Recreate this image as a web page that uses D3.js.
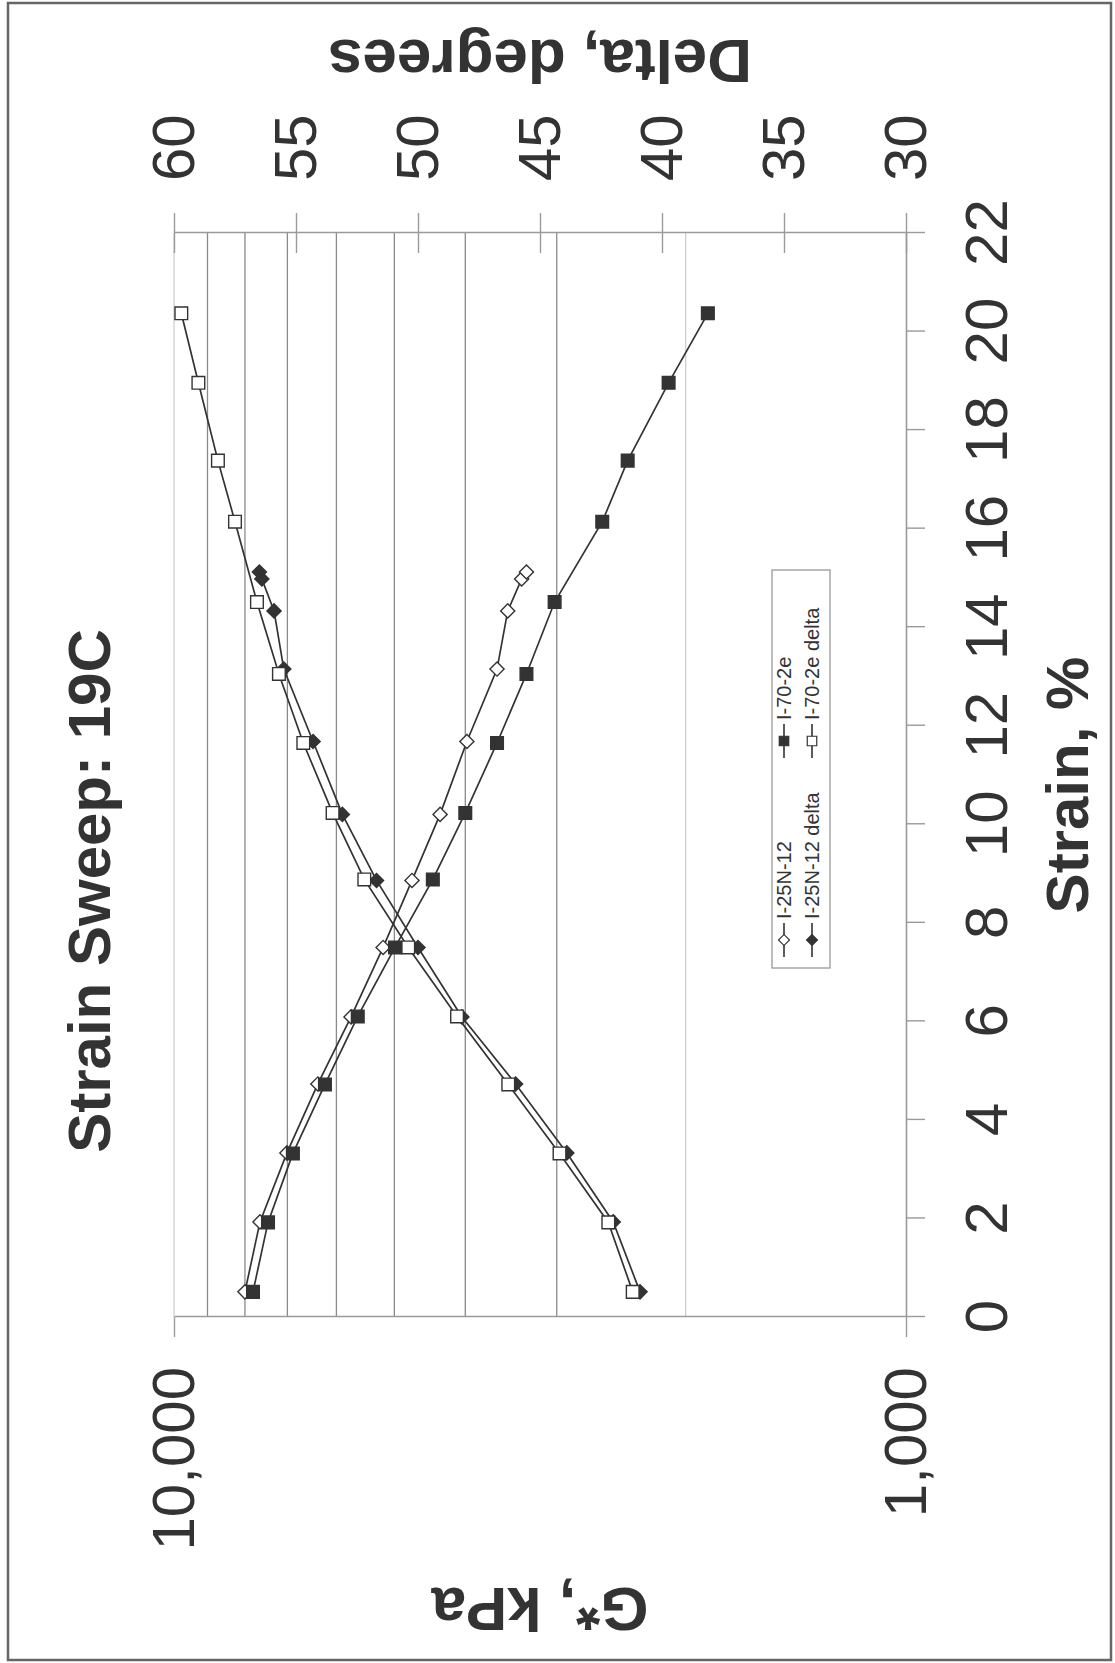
<!DOCTYPE html>
<html>
<head>
<meta charset="utf-8">
<script src="https://cdn.jsdelivr.net/npm/d3@7"></script>
<style>
  html, body { margin: 0; padding: 0; background: #fff; }
  text { font-family: "Liberation Sans", Arial, sans-serif; fill: #333; }
</style>
</head>
<body>
<div id="chart"></div>
<script>
//Datos
const STRAIN_A = [0.51, 1.93, 3.33, 4.73, 6.09, 7.5, 8.86, 10.2, 11.68, 13.15, 14.33, 14.98, 15.12];
const GSTAR_A = [8000, 7630, 7010, 6360, 5730, 5180, 4730, 4330, 3980, 3620, 3500, 3350, 3300];
const DELTA_A = [40.9, 42.0, 43.9, 46.0, 48.2, 50.0, 51.7, 53.1, 54.3, 55.5, 55.9, 56.4, 56.5];

const STRAIN_B = [0.51, 1.92, 3.32, 4.72, 6.1, 7.5, 8.88, 10.23, 11.65, 13.05, 14.51, 16.14, 17.38, 18.96, 20.37];
const GSTAR_B = [7800, 7440, 6880, 6220, 5610, 4990, 4430, 4000, 3620, 3300, 3020, 2600, 2400, 2110, 1865];
const DELTA_B = [41.2, 42.2, 44.2, 46.3, 48.4, 50.4, 52.2, 53.5, 54.7, 55.7, 56.6, 57.5, 58.2, 59.0, 59.7];

const STRAIN_TICKS = [0, 2, 4, 6, 8, 10, 12, 14, 16, 18, 20, 22];
const DELTA_TICKS = [30, 35, 40, 45, 50, 55, 60];
const GSTAR_TICKS = [1000, 10000];
const GSTAR_GRID = [2000, 3000, 4000, 5000, 6000, 7000, 8000, 9000, 10000];

const SERIES_NAMES = ['I-25N-12', 'I-70-2e', 'I-25N-12 delta', 'I-70-2e delta'];

const INK = '#333', AXIS = '#9a9a9a', GRID = '#8a8a8a', GRID_FAINT = '#cfcfcf';

//El gráfico original está girado 90º: se dibuja en horizontal y se rota
const W = 1663, H = 1115;
let margin = {top: 174, right: 233, bottom: 209, left: 346},
    width = W - margin.left - margin.right,
    height = H - margin.top - margin.bottom;

let svg = d3.select('#chart').append('svg')
    .attr('width', 1115)
    .attr('height', 1663);

svg.append('rect')
    .attr('x', 8).attr('y', 3).attr('width', 1103).attr('height', 1657)
    .attr('fill', 'none').attr('stroke', '#666').attr('stroke-width', 2.5);

let root = svg.append('g')
    .attr('transform', 'translate(0,' + W + ') rotate(-90)');

let g = root.append('g')
    .attr('transform', 'translate(' + margin.left + ',' + margin.top + ')');

let x = d3.scaleLinear().domain([0, 22]).range([0, width]);
let yG = d3.scaleLog().domain([1000, 10000]).range([height, 0]);
let yD = d3.scaleLinear().domain([30, 60]).range([height, 0]);

//Líneas de rejilla
g.append('g').selectAll('line')
    .data(GSTAR_GRID)
    .enter().append('line')
    .attr('x1', 0).attr('x2', width)
    .attr('y1', function(d) { return yG(d); })
    .attr('y2', function(d) { return yG(d); })
    .attr('stroke', function(d) { return (d == 2000 || d == 10000) ? GRID_FAINT : GRID; })
    .attr('stroke-width', 1.3);

//Ejes
function styleAxis(sel) {
    sel.select('.domain').attr('stroke', AXIS).attr('stroke-width', 1.6);
    sel.selectAll('.tick line').attr('stroke', AXIS).attr('stroke-width', 1.4);
    sel.selectAll('.tick text').attr('fill', INK).style('font-size', '60px')
        .style('font-family', '"Liberation Sans", Arial, sans-serif');
}

g.append('g')
    .attr('transform', 'translate(0,' + height + ')')
    .call(d3.axisBottom(x).tickValues(STRAIN_TICKS).tickSizeInner(19).tickSizeOuter(0).tickPadding(39))
    .call(styleAxis);

g.append('g')
    .call(d3.axisLeft(yG).tickValues(GSTAR_TICKS).tickFormat(d3.format(',')).tickSizeInner(20).tickSizeOuter(0).tickPadding(30))
    .call(styleAxis);

let rightAxis = g.append('g')
    .attr('transform', 'translate(' + width + ',0)')
    .call(d3.axisRight(yD).tickValues(DELTA_TICKS).tickSizeInner(20).tickSizeOuter(0).tickPadding(32))
    .call(styleAxis);
rightAxis.selectAll('.tick line').attr('x1', -20);

//Series
function drawSeries(xs, ys, yScale, symbol, filled) {
    let pts = xs.map(function(d, i) { return [x(d), yScale(ys[i])]; });
    g.append('path')
        .attr('d', d3.line()(pts))
        .attr('fill', 'none')
        .attr('stroke', INK)
        .attr('stroke-width', 1.7);
    g.append('g').selectAll('path')
        .data(pts)
        .enter().append('path')
        .attr('d', d3.symbol().type(d3.symbolSquare).size(symbol == 'diamond' ? 100 : 160)())
        .attr('transform', function(d) { return 'translate(' + d[0] + ',' + d[1] + ')' + (symbol == 'diamond' ? ' rotate(45)' : ''); })
        .attr('fill', filled ? INK : '#fff')
        .attr('stroke', INK)
        .attr('stroke-width', 1.4);
}

drawSeries(STRAIN_A, GSTAR_A, yG, 'diamond', false);
drawSeries(STRAIN_B, GSTAR_B, yG, 'square', true);
drawSeries(STRAIN_A, DELTA_A, yD, 'diamond', true);
drawSeries(STRAIN_B, DELTA_B, yD, 'square', false);

//Títulos
root.append('text')
    .attr('x', 772).attr('y', 110)
    .attr('text-anchor', 'middle')
    .style('font-size', '60px').style('font-weight', 'bold')
    .text('Strain Sweep: 19C');

root.append('text')
    .attr('x', 878).attr('y', 1088)
    .attr('text-anchor', 'middle')
    .style('font-size', '60px').style('font-weight', 'bold')
    .text('Strain, %');

root.append('text')
    .attr('transform', 'translate(75,540) rotate(-90)')
    .attr('text-anchor', 'middle')
    .style('font-size', '62px').style('font-weight', 'bold')
    .text('G*, kPa');

root.append('text')
    .attr('transform', 'translate(1623,540) rotate(-90)')
    .attr('text-anchor', 'middle')
    .style('font-size', '62px').style('font-weight', 'bold')
    .text('Delta, degrees');

//Leyenda
let legend = root.append('g').attr('transform', 'translate(695,772)');
legend.append('rect')
    .attr('width', 398).attr('height', 58)
    .attr('fill', '#fff').attr('stroke', '#999').attr('stroke-width', 1.3);

let legendItems = [
    {name: SERIES_NAMES[0], symbol: 'diamond', filled: false, col: 0, row: 0},
    {name: SERIES_NAMES[1], symbol: 'square', filled: true, col: 1, row: 0},
    {name: SERIES_NAMES[2], symbol: 'diamond', filled: true, col: 0, row: 1},
    {name: SERIES_NAMES[3], symbol: 'square', filled: false, col: 1, row: 1}
];

legendItems.forEach(function(it) {
    let lx = it.col == 0 ? 11 : 210, ly = it.row == 0 ? 12 : 40;
    legend.append('line')
        .attr('x1', lx).attr('x2', lx + 34).attr('y1', ly).attr('y2', ly)
        .attr('stroke', INK).attr('stroke-width', 1.6);
    legend.append('path')
        .attr('d', d3.symbol().type(d3.symbolSquare).size(it.symbol == 'diamond' ? 60 : 90)())
        .attr('transform', 'translate(' + (lx + 17) + ',' + ly + ')' + (it.symbol == 'diamond' ? ' rotate(45)' : ''))
        .attr('fill', it.filled ? INK : '#fff')
        .attr('stroke', INK).attr('stroke-width', 1.2);
    legend.append('text')
        .attr('x', lx + 38).attr('y', ly).attr('dy', '0.35em')
        .style('font-size', '20px')
        .text(it.name);
});
</script>
</body>
</html>
